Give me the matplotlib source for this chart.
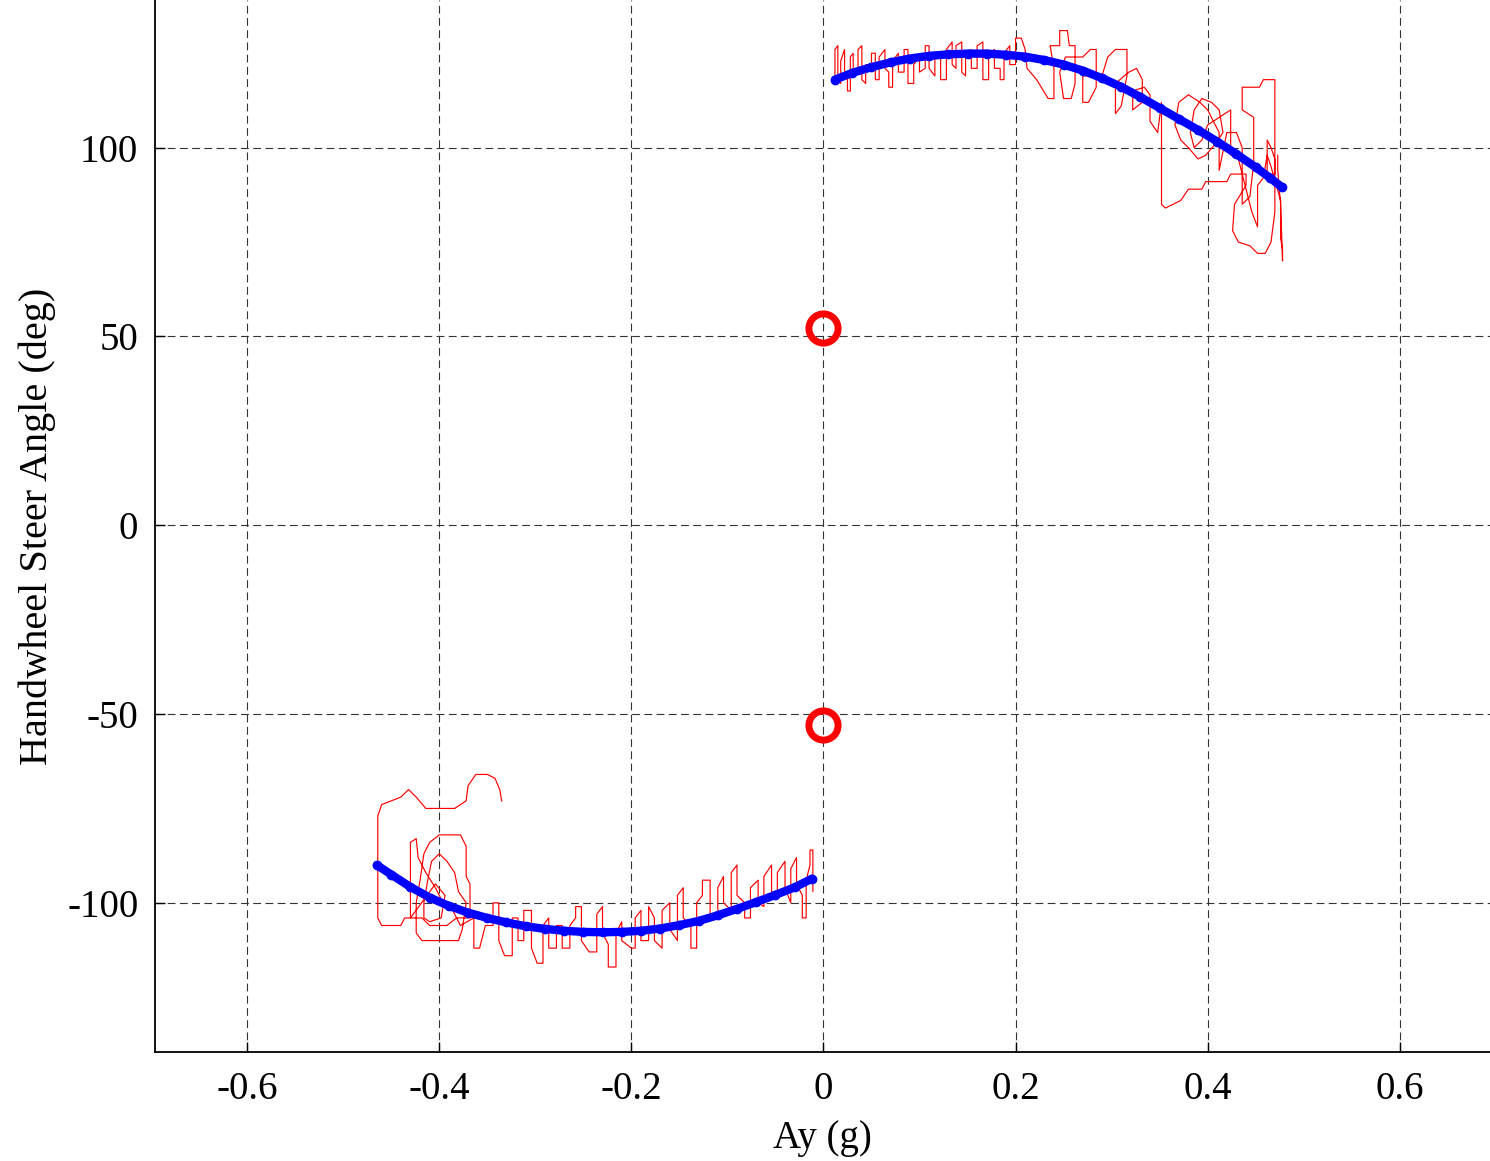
import matplotlib
matplotlib.use("Agg")
import matplotlib.pyplot as plt

plt.rcParams['font.family'] = ['Liberation Serif', 'DejaVu Serif']
plt.rcParams['axes.unicode_minus'] = False

# ---- data ----
# fitted curves (blue)
fit_pos_ay = [0.012, 0.03, 0.05, 0.07, 0.09, 0.11, 0.13, 0.15, 0.17, 0.19, 0.21, 0.23, 0.25, 0.27,
              0.29, 0.31, 0.33, 0.35, 0.37, 0.39, 0.41, 0.43, 0.45, 0.465, 0.477]
fit_pos_sw = [118.0, 119.8, 121.3, 122.6, 123.6, 124.3, 124.7, 124.9, 124.9, 124.6, 124.1, 123.2, 122.0, 120.4,
              118.4, 116.1, 113.4, 110.5, 107.6, 104.7, 101.6, 98.3, 94.8, 92.0, 89.6]
fit_neg_ay = [-0.465, -0.45, -0.43, -0.41, -0.39, -0.37, -0.35, -0.33, -0.31, -0.29, -0.27, -0.25, -0.23,
              -0.21, -0.19, -0.17, -0.15, -0.13, -0.11, -0.09, -0.07, -0.05, -0.03, -0.012]
fit_neg_sw = [-90.0, -92.5, -95.8, -98.6, -100.8, -102.6, -104.0, -105.2, -106.2, -106.9, -107.4, -107.7, -107.8,
              -107.7, -107.4, -106.8, -105.9, -104.8, -103.3, -101.6, -99.8, -97.9, -95.9, -93.6]

# measured trace, positive turn (red)
meas_pos_ay = [0.012, 0.012, 0.015, 0.015, 0.018, 0.018, 0.022, 0.022, 0.025, 0.025, 0.028, 0.028, 0.031, 0.031,
               0.036, 0.036, 0.040, 0.040, 0.044, 0.044, 0.050, 0.050, 0.054, 0.054, 0.058, 0.058, 0.064, 0.064,
               0.068, 0.068, 0.072, 0.072, 0.078, 0.078, 0.084, 0.084, 0.088, 0.088, 0.094, 0.094, 0.100, 0.100,
               0.106, 0.106, 0.110, 0.110, 0.116, 0.116, 0.122, 0.122, 0.128, 0.128, 0.134, 0.134, 0.138, 0.138,
               0.144, 0.144, 0.148, 0.148, 0.154, 0.154, 0.160, 0.160, 0.166, 0.166, 0.172, 0.172, 0.178, 0.178,
               0.184, 0.184, 0.188, 0.188, 0.194, 0.194, 0.200, 0.200, 0.206, 0.210,
               0.212, 0.222, 0.234, 0.240, 0.240, 0.236, 0.246, 0.246, 0.254, 0.256, 0.262, 0.262, 0.258, 0.250,
               0.246, 0.252, 0.270, 0.278, 0.284, 0.284, 0.276, 0.270, 0.270, 0.290, 0.296, 0.304, 0.316, 0.316,
               0.310, 0.304, 0.304, 0.318, 0.326, 0.332, 0.332, 0.322, 0.322, 0.334, 0.340, 0.340, 0.348,
               0.352, 0.352, 0.356, 0.372, 0.380, 0.394, 0.398, 0.420, 0.424, 0.440, 0.440, 0.428, 0.426, 0.432,
               0.444, 0.452, 0.460, 0.466, 0.470, 0.470, 0.466, 0.462, 0.462, 0.470, 0.470, 0.458, 0.454, 0.436,
               0.436, 0.448, 0.448, 0.444, 0.436, 0.436, 0.430, 0.420, 0.416, 0.412, 0.412, 0.400, 0.392, 0.380,
               0.370, 0.366, 0.372, 0.380, 0.390, 0.398, 0.408, 0.416, 0.412, 0.404, 0.394, 0.386, 0.382, 0.386,
               0.394, 0.400, 0.424, 0.424, 0.432, 0.446, 0.452, 0.452, 0.458, 0.462, 0.466, 0.476, 0.476, 0.478,
               0.478, 0.476, 0.473, 0.473]
meas_pos_sw = [119, 126, 127, 118, 117, 123, 126, 120, 119, 115, 115, 124, 125, 120,
               120, 126, 127, 118, 117, 122, 122, 125, 125, 118, 118, 124, 126, 121,
               120, 116, 116, 123, 125, 120, 120, 126, 126, 117, 117, 122, 124, 120,
               121, 127, 127, 121, 119, 124, 125, 118, 118, 126, 128, 122, 121, 127,
               128, 120, 119, 124, 126, 121, 121, 127, 128, 118, 118, 125, 126, 121,
               121, 118, 118, 125, 127, 122, 122, 129, 129, 126,
               121, 118, 113, 113, 121, 127, 127, 131, 131, 127, 127, 117, 113, 113,
               120, 124, 124, 126, 126, 116, 112, 112, 119, 119, 124, 126, 126, 119,
               111, 109, 117, 120, 121, 118, 112, 110, 115, 116, 114, 107, 104,
               112, 85, 84, 86, 89, 89, 91, 91, 93, 93, 90, 85, 78, 75,
               74, 72, 72, 75, 83, 97, 100, 102, 93, 93, 118, 118, 116, 116,
               110, 108, 96, 87, 85, 100, 104, 104, 99, 94, 104, 110, 112, 114,
               112, 106, 102, 100, 97, 98, 101, 104, 110, 112, 113, 110, 104, 100,
               102, 106, 110, 98, 97, 83, 79, 90, 92, 98, 95, 86, 76, 73,
               70, 85, 94, 98]

# measured trace, negative turn (red)
meas_neg_ay = [-0.335, -0.337, -0.342, -0.350, -0.362, -0.370, -0.372, -0.384, -0.414, -0.424, -0.432, -0.440,
               -0.460, -0.464, -0.464, -0.460, -0.440, -0.436, -0.418, -0.410, -0.392, -0.382, -0.368, -0.368,
               -0.372, -0.372, -0.378, -0.400, -0.410, -0.416, -0.420, -0.424, -0.424, -0.418, -0.380, -0.376,
               -0.372, -0.380, -0.384, -0.392, -0.400, -0.408, -0.412, -0.416, -0.416, -0.410, -0.398, -0.394,
               -0.404, -0.430, -0.430, -0.424, -0.422, -0.414, -0.404, -0.396, -0.386, -0.378,
               -0.364, -0.364, -0.358, -0.352, -0.344, -0.344, -0.338, -0.338, -0.332, -0.324, -0.324, -0.318,
               -0.318, -0.312, -0.312, -0.304, -0.304, -0.298, -0.292, -0.292, -0.286, -0.286, -0.278, -0.278,
               -0.272, -0.272, -0.264, -0.264, -0.258, -0.258, -0.252, -0.252, -0.244, -0.236, -0.236, -0.230,
               -0.230, -0.224, -0.224, -0.216, -0.216, -0.210, -0.210, -0.200, -0.196, -0.196, -0.190, -0.190,
               -0.182, -0.182, -0.176, -0.176, -0.168, -0.168, -0.160, -0.160, -0.152, -0.152, -0.146, -0.146,
               -0.138, -0.138, -0.132, -0.132, -0.126, -0.126, -0.118, -0.118, -0.110, -0.110, -0.104, -0.104,
               -0.096, -0.096, -0.090, -0.090, -0.082, -0.082, -0.076, -0.076, -0.068, -0.068, -0.062, -0.062,
               -0.054, -0.054, -0.048, -0.048, -0.040, -0.040, -0.034, -0.034, -0.028, -0.028, -0.022, -0.022,
               -0.018, -0.018, -0.014, -0.014, -0.011, -0.011]
meas_neg_sw = [-73, -70, -67, -66, -66, -69, -73, -75, -75, -72, -70, -72,
               -74, -77, -104, -106, -106, -104, -104, -106, -106, -104, -104, -95,
               -93, -85, -82, -82, -84, -87, -94, -100, -108, -110, -110, -107,
               -100, -97, -92, -89, -87, -89, -94, -100, -104, -105, -104, -98,
               -95, -104, -84, -83, -88, -92, -96, -100, -102, -106,
               -104, -112, -112, -106, -106, -100, -100, -110, -114, -114, -104, -104,
               -110, -110, -102, -102, -112, -116, -116, -106, -104, -112, -112, -106,
               -106, -112, -112, -106, -104, -101, -101, -110, -113, -113, -103, -101,
               -108, -111, -117, -117, -108, -105, -110, -112, -112, -104, -102, -110,
               -110, -101, -104, -110, -112, -102, -100, -107, -110, -98, -96, -104,
               -106, -112, -112, -100, -98, -94, -94, -104, -104, -96, -93, -100,
               -102, -92, -90, -98, -100, -104, -104, -96, -94, -100, -101, -93,
               -90, -97, -99, -92, -89, -96, -100, -91, -88, -95, -98, -104,
               -104, -94, -90, -86, -86, -97]

# zero-Ay intercepts (red circles)
icpt_ay = [0.0, 0.0]
icpt_sw = [52.3, -52.9]

xticks = [-0.6, -0.4, -0.2, 0, 0.2, 0.4, 0.6]
xticklabels = ['-0.6', '-0.4', '-0.2', '0', '0.2', '0.4', '0.6']
yticks = [-100, -50, 0, 50, 100]
yticklabels = ['-100', '-50', '0', '50', '100']

# ---- plot ----
fig = plt.figure(figsize=(14.9, 11.61), dpi=100)
ax = fig.add_axes([0.104, 0.0939, 0.896, 0.9061])

ax.plot(meas_pos_ay, meas_pos_sw, color='red', lw=0.85, zorder=2)
ax.plot(meas_neg_ay, meas_neg_sw, color='red', lw=0.85, zorder=2)
ax.plot(fit_pos_ay, fit_pos_sw, color='#0000ff', lw=6, marker='o', ms=6, zorder=3, solid_capstyle='round')
ax.plot(fit_neg_ay, fit_neg_sw, color='#0000ff', lw=6, marker='o', ms=6, zorder=3, solid_capstyle='round')
ax.plot(icpt_ay, icpt_sw, linestyle='none', marker='o', ms=21, mfc='none', mec='red', mew=5, zorder=4)

ax.set_xlim(-0.696, 0.694)
ax.set_ylim(-139.5, 139.1)
ax.set_xticks(xticks)
ax.set_xticklabels(xticklabels)
ax.set_yticks(yticks)
ax.set_yticklabels(yticklabels)

ax.grid(True, color='#333333', linestyle=(0, (7, 4)), linewidth=0.8)
ax.set_axisbelow(True)
for s in ['top', 'right']:
    ax.spines[s].set_visible(False)
for s in ['left', 'bottom']:
    ax.spines[s].set_linewidth(1.3)

ax.tick_params(direction='in', length=7, width=1, labelsize=28, pad=14)
ax.tick_params(axis='y', pad=12)
ax.set_xlabel('Ay (g)', fontsize=28, labelpad=8)
ax.set_ylabel('Handwheel Steer Angle (deg)', fontsize=29, labelpad=8)

fig.savefig('out.png', dpi=100)
